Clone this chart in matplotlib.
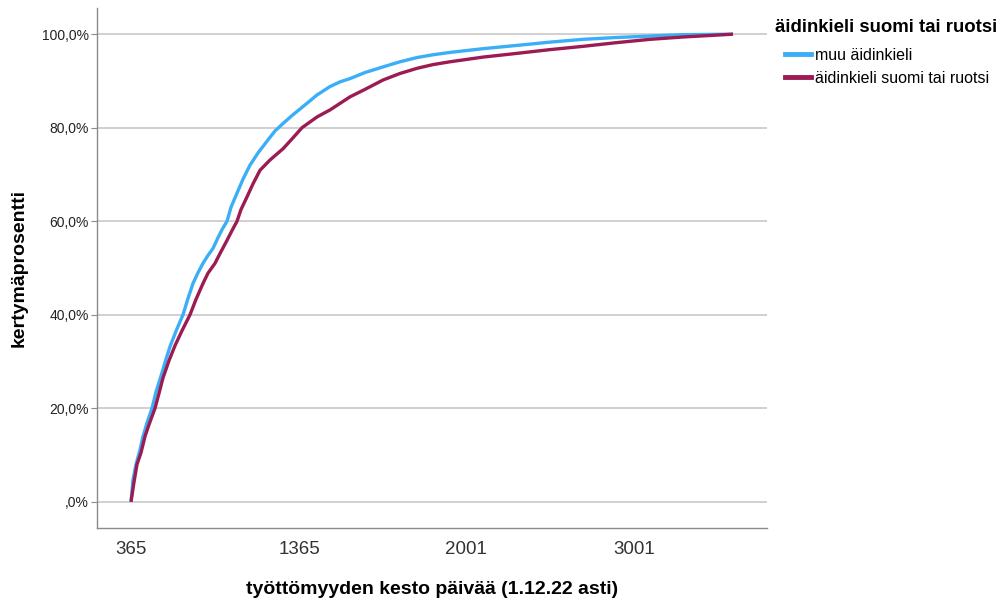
import matplotlib
matplotlib.use("Agg")
import matplotlib.pyplot as plt
from matplotlib.ticker import FuncFormatter
from matplotlib.lines import Line2D

plt.rcParams['font.family'] = ['Liberation Sans', 'DejaVu Sans']

# Category rank of unemployment duration (categorical axis, as in SPSS)
muu_index = [0, 2, 5, 9, 12, 16, 21, 25, 31, 35, 39, 45, 52, 57, 62, 67, 72, 77, 82, 87,
             91, 96, 100, 106, 112, 119, 127, 137, 144, 152, 161, 169, 177, 186, 199, 209,
             219, 234, 252, 269, 286, 302, 319, 352, 386, 419, 452, 486, 519, 552, 602]
muu_aidinkieli = [0, 4.7, 8.0, 11.1, 14.0, 16.9, 20.0, 23.5, 27.6, 30.5, 33.2, 36.5, 40.0,
                  43.5, 46.7, 49.0, 51.0, 52.7, 54.2, 56.5, 58.2, 60.0, 63.0, 66.0, 69.0,
                  72.0, 74.6, 77.4, 79.3, 80.9, 82.6, 84.0, 85.4, 87.0, 88.8, 89.8, 90.5,
                  91.8, 93.0, 94.1, 95.0, 95.6, 96.1, 96.9, 97.6, 98.3, 98.9, 99.3, 99.6,
                  99.9, 100.0]
suomi_index = [0, 3, 6, 10, 14, 18, 24, 28, 32, 38, 44, 51, 59, 65, 72, 77, 84, 89, 95,
               101, 106, 110, 116, 122, 129, 139, 152, 161, 171, 186, 199, 219, 234, 252,
               269, 286, 302, 319, 352, 386, 419, 452, 486, 519, 552, 602]
suomi_ruotsi = [0, 4.2, 8.0, 10.5, 14.0, 16.5, 20.0, 23.2, 26.5, 30.2, 33.4, 36.6, 40.0,
                43.3, 46.7, 48.9, 51.0, 53.1, 55.5, 58.0, 60.0, 62.5, 65.2, 68.0, 70.9,
                73.1, 75.5, 77.6, 80.0, 82.3, 83.8, 86.6, 88.2, 90.2, 91.6, 92.7, 93.5,
                94.1, 95.1, 95.9, 96.7, 97.4, 98.2, 98.9, 99.4, 100.0]
tick_positions = [0, 169, 335, 503]
tick_labels = ['365', '1365', '2001', '3001']
series_names = ['muu äidinkieli', 'äidinkieli suomi tai ruotsi']
legend_title = 'äidinkieli suomi tai ruotsi'
colors = ['#3AAFF7', '#9B1B52']

fig = plt.figure(figsize=(10.06, 6.01), dpi=100)
ax = fig.add_axes([97/1006, 1 - 528/601, (767-97)/1006, (528-8)/601])

ax.plot(muu_index, muu_aidinkieli, color=colors[0], lw=2.4, solid_capstyle='butt',
        solid_joinstyle='round')
ax.plot(suomi_index, suomi_ruotsi, color=colors[1], lw=2.4, solid_capstyle='butt',
        solid_joinstyle='round')

ax.set_xlim(-34, 636)
ax.set_ylim(-5.6, 105.6)
ax.set_yticks([0, 20, 40, 60, 80, 100])
ax.yaxis.set_major_formatter(FuncFormatter(
    lambda v, p: (',0%' if v == 0 else f'{v:.1f}'.replace('.', ',') + '%')))
ax.set_xticks(tick_positions)
ax.set_xticklabels(tick_labels)
ax.grid(axis='y', color='#C8C8C8', lw=1.2)
ax.set_axisbelow(True)
for s in ['top', 'right']:
    ax.spines[s].set_visible(False)
for s in ['left', 'bottom']:
    ax.spines[s].set_color('#8A8A8A')
    ax.spines[s].set_linewidth(1.0)
ax.tick_params(axis='y', length=4, color='#8A8A8A', labelsize=10, labelcolor='#222222', pad=2)
ax.tick_params(axis='x', length=0, labelsize=13.5, labelcolor='#333333', pad=9)

ax.set_ylabel('kertymäprosentti', fontsize=14, fontweight='bold', labelpad=10)
ax.set_xlabel('työttömyyden kesto päivää (1.12.22 asti)', fontsize=14, fontweight='bold',
              labelpad=17)

# Legend (title + entries)
fig.text(775/1006, 1 - 28/601, legend_title, fontsize=13.4, fontweight='bold',
         ha='left', va='center')
handles = [Line2D([], [], color=c, lw=3.5) for c in colors]
leg = fig.legend(handles, series_names, loc='upper left',
                 bbox_to_anchor=(785/1006, 1 - 48/601), frameon=False,
                 fontsize=11.5, handlelength=1.6, handletextpad=0.3,
                 labelspacing=0.5, borderaxespad=0, borderpad=0)

fig.savefig('out.png', dpi=100)
